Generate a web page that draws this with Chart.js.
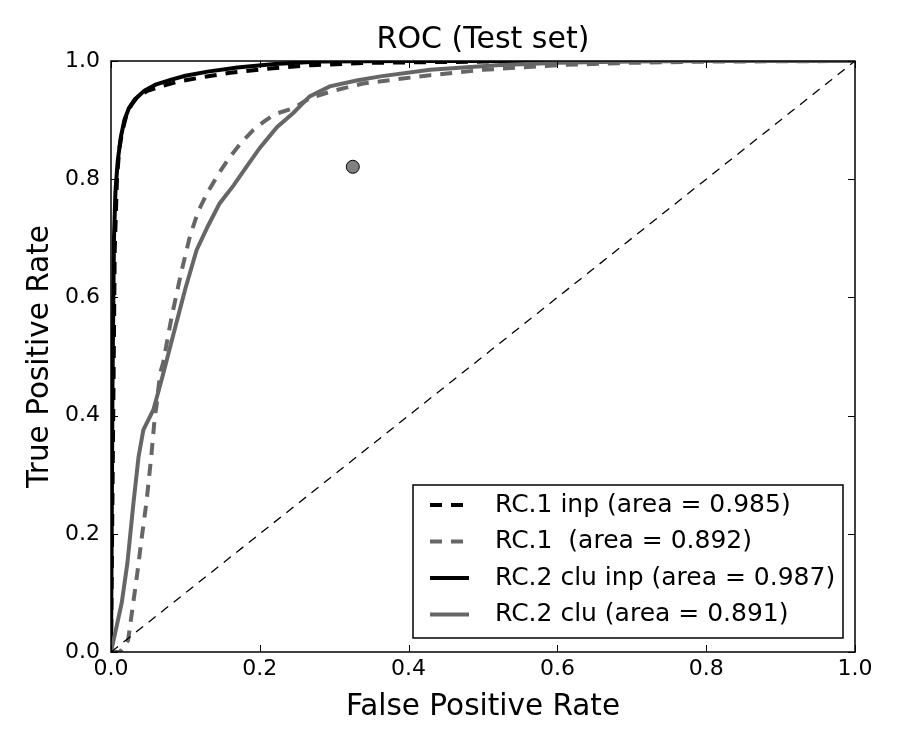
<!DOCTYPE html>
<html>
<head>
<meta charset="utf-8">
<script src="https://cdn.jsdelivr.net/npm/chart.js@4"></script>
<style>
  html, body { margin: 0; padding: 0; background: #fff; }
  #roc { display: block; }
</style>
</head>
<body>
<canvas id="roc" width="900" height="750"></canvas>
<script>
// tick positions on both axes
var tickValues = [0, 0.2, 0.4, 0.6, 0.8, 1.0];

var seriesNames = [
    'RC.1 inp (area = 0.985)',
    'RC.1  (area = 0.892)',
    'RC.2 clu inp (area = 0.987)',
    'RC.2 clu (area = 0.891)'
];

// RC.1 inp
var rc1InpX = [0, 0.003, 0.005, 0.008, 0.011, 0.015, 0.02, 0.027, 0.036, 0.05, 0.07, 0.09, 0.12, 0.16, 0.21, 0.27, 0.35, 0.5, 0.7, 1.0];
var rc1InpY = [0, 0.40, 0.68, 0.80, 0.85, 0.88, 0.905, 0.925, 0.94, 0.95, 0.958, 0.965, 0.972, 0.98, 0.987, 0.993, 0.997, 0.999, 1.0, 1.0];

// RC.1
var rc1X = [0, 0.012, 0.023, 0.035, 0.042, 0.048, 0.0545, 0.059, 0.061, 0.066, 0.070, 0.0815, 0.094, 0.106, 0.117, 0.129, 0.145, 0.16, 0.175, 0.191, 0.205, 0.22, 0.245, 0.267, 0.30, 0.339, 0.429, 0.5, 0.6, 0.7, 0.8, 1.0];
var rc1Y = [0, 0, 0.02, 0.13, 0.20, 0.257, 0.336, 0.40, 0.415, 0.472, 0.489, 0.567, 0.64, 0.703, 0.745, 0.776, 0.81, 0.838, 0.862, 0.883, 0.897, 0.91, 0.92, 0.937, 0.95, 0.962, 0.976, 0.985, 0.993, 0.997, 0.999, 1.0];

// RC.2 clu inp
var rc2InpX = [0, 0.002, 0.004, 0.006, 0.009, 0.013, 0.018, 0.024, 0.032, 0.045, 0.06, 0.08, 0.1, 0.13, 0.17, 0.22, 0.28, 0.4, 0.6, 1.0];
var rc2InpY = [0, 0.45, 0.70, 0.78, 0.83, 0.87, 0.90, 0.92, 0.935, 0.95, 0.96, 0.968, 0.975, 0.982, 0.989, 0.995, 0.999, 1.0, 1.0, 1.0];

// RC.2 clu
var rc2X = [0, 0.0144, 0.022, 0.030, 0.037, 0.0435, 0.057, 0.070, 0.086, 0.10, 0.115, 0.13, 0.146, 0.165, 0.182, 0.20, 0.223, 0.245, 0.267, 0.294, 0.33, 0.362, 0.429, 0.518, 0.60, 0.7, 0.8, 1.0];
var rc2Y = [0, 0.083, 0.15, 0.25, 0.33, 0.376, 0.41, 0.47, 0.548, 0.615, 0.68, 0.72, 0.759, 0.79, 0.821, 0.853, 0.888, 0.912, 0.94, 0.957, 0.967, 0.974, 0.985, 0.993, 0.997, 0.999, 1.0, 1.0];

// chance line and the single operating point
var chanceX = [0, 1];
var chanceY = [0, 1];
var pointX = [0.325];
var pointY = [0.821];

function toXY(xs, ys) {
    return xs.map((x, i) => ({ x: x, y: ys[i] }));
}

var GRAY = '#666666';
var FONT = 'DejaVu Sans';

function lineSet(label, xs, ys, color, dash, order) {
    return {
        label: label,
        data: toXY(xs, ys),
        showLine: true,
        borderColor: color,
        borderWidth: 4,
        borderDash: dash,
        pointRadius: 0,
        tension: 0,
        fill: false,
        order: order
    };
}

// inward ticks on all four sides, the frame and the legend box
var frameAndLegend = {
    id: 'frameAndLegend',
    afterLayout(chart) {
        // center the title over the plot area, not the whole canvas
        if (chart.titleBlock) {
            chart.titleBlock.left = chart.chartArea.left;
            chart.titleBlock.right = chart.chartArea.right;
        }
    },
    afterDraw(chart) {
        var ctx = chart.ctx;
        var a = chart.chartArea;
        var xs = chart.scales.x, ys = chart.scales.y;
        ctx.save();
        ctx.strokeStyle = '#000';
        ctx.lineWidth = 1;
        tickValues.forEach(v => {
            var px = Math.round(xs.getPixelForValue(v)) + 0.5;
            var py = Math.round(ys.getPixelForValue(v)) + 0.5;
            ctx.beginPath();
            ctx.moveTo(px, a.bottom); ctx.lineTo(px, a.bottom - 7);
            ctx.moveTo(px, a.top); ctx.lineTo(px, a.top + 7);
            ctx.moveTo(a.left, py); ctx.lineTo(a.left + 7, py);
            ctx.moveTo(a.right, py); ctx.lineTo(a.right - 7, py);
            ctx.stroke();
        });
        ctx.lineWidth = 1.5;
        ctx.strokeRect(a.left, a.top, a.right - a.left, a.bottom - a.top);

        // legend
        var bx = a.right - 442, by = a.bottom - 167, bw = 430, bh = 153;
        ctx.fillStyle = '#fff';
        ctx.fillRect(bx, by, bw, bh);
        ctx.lineWidth = 1.5;
        ctx.strokeRect(bx, by, bw, bh);
        ctx.font = '25px "' + FONT + '"';
        ctx.textBaseline = 'middle';
        ctx.textAlign = 'left';
        var ds = chart.data.datasets;
        for (var i = 0; i < 4; i++) {
            var rowY = by + 20 + i * 36.5;
            ctx.beginPath();
            ctx.strokeStyle = ds[i].borderColor;
            ctx.lineWidth = ds[i].borderWidth;
            ctx.setLineDash(ds[i].borderDash);
            ctx.moveTo(bx + 17, rowY);
            ctx.lineTo(bx + 56, rowY);
            ctx.stroke();
            ctx.setLineDash([]);
            ctx.fillStyle = '#000';
            ctx.fillText(ds[i].label, bx + 82, rowY);
        }
        ctx.restore();
    }
};

var tickFmt = v => Number(v).toFixed(1);

new Chart(document.getElementById('roc'), {
    type: 'scatter',
    data: {
        datasets: [
            lineSet(seriesNames[0], rc1InpX, rc1InpY, '#000000', [12, 9], 6),
            lineSet(seriesNames[1], rc1X, rc1Y, GRAY, [12, 9], 5),
            lineSet(seriesNames[2], rc2InpX, rc2InpY, '#000000', [], 4),
            lineSet(seriesNames[3], rc2X, rc2Y, GRAY, [], 3),
            {
                label: 'chance',
                data: toXY(chanceX, chanceY),
                showLine: true,
                borderColor: '#000000',
                borderWidth: 1.3,
                borderDash: [9, 7],
                pointRadius: 0,
                order: 2
            },
            {
                label: 'point',
                data: toXY(pointX, pointY),
                pointRadius: 6.5,
                pointBackgroundColor: '#808080',
                pointBorderColor: '#000000',
                pointBorderWidth: 1,
                order: 1
            }
        ]
    },
    options: {
        responsive: false,
        animation: false,
        events: [],
        devicePixelRatio: 1,
        layout: { padding: { left: 0, right: 45, top: 0, bottom: 0 } },
        plugins: {
            legend: { display: false },
            tooltip: { enabled: false },
            title: {
                display: true,
                text: 'ROC (Test set)',
                color: '#000',
                font: { family: FONT, size: 30, weight: 'normal' },
                padding: { top: 22, bottom: 3 }
            }
        },
        scales: {
            x: {
                type: 'linear',
                min: 0,
                max: 1,
                afterFit: s => { s.height = 98; },
                afterBuildTicks: s => { s.ticks = tickValues.map(v => ({ value: v })); },
                grid: { display: false, drawTicks: false },
                border: { display: false },
                ticks: {
                    color: '#000',
                    padding: 4,
                    maxRotation: 0,
                    font: { family: FONT, size: 22 },
                    callback: tickFmt
                },
                title: {
                    display: true,
                    text: 'False Positive Rate',
                    color: '#000',
                    font: { family: FONT, size: 29.5 },
                    padding: { top: 0, bottom: 25.3 }
                }
            },
            y: {
                type: 'linear',
                min: 0,
                max: 1,
                afterFit: s => { s.width = 111; },
                afterBuildTicks: s => { s.ticks = tickValues.map(v => ({ value: v })); },
                grid: { display: false, drawTicks: false },
                border: { display: false },
                ticks: {
                    color: '#000',
                    padding: 11,
                    font: { family: FONT, size: 22 },
                    callback: tickFmt
                },
                title: {
                    display: true,
                    text: 'True Positive Rate',
                    color: '#000',
                    font: { family: FONT, size: 29.5 },
                    padding: { top: 22.3, bottom: 0 }
                }
            }
        }
    },
    plugins: [frameAndLegend]
});
</script>
</body>
</html>
